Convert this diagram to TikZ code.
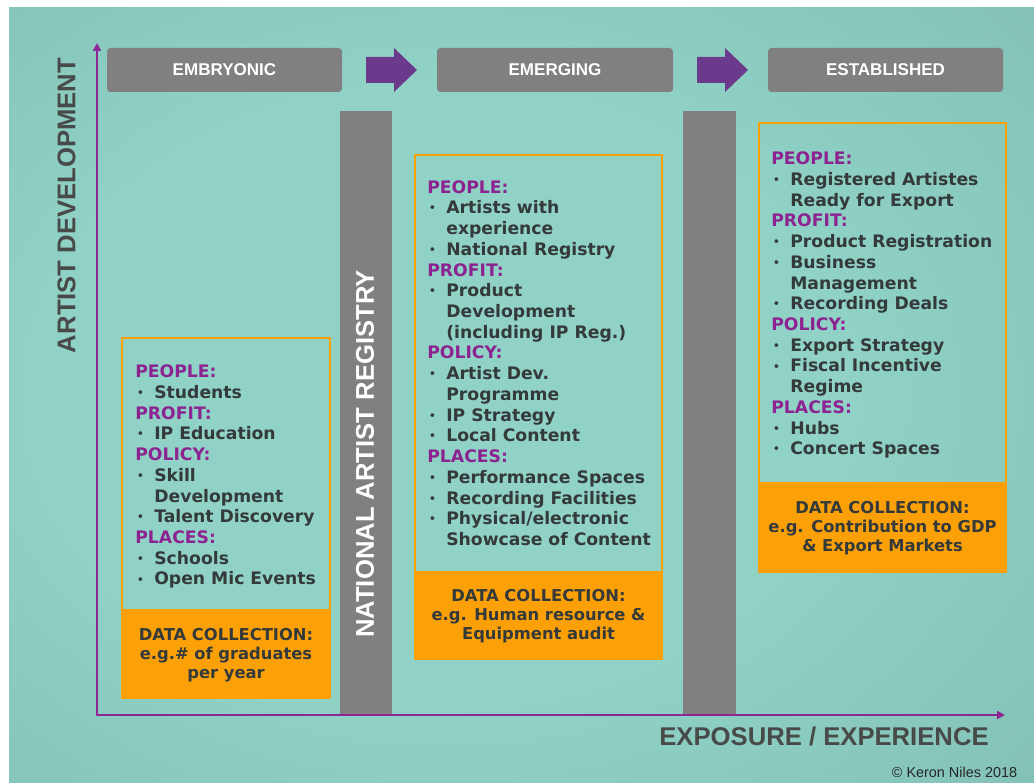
\documentclass[tikz,border=0pt]{standalone}
\usepackage{fontspec}
\newfontfamily\verdfont{DejaVu Sans}
\newfontfamily\arialfont{Liberation Sans}
\usetikzlibrary{arrows.meta}

\definecolor{tealin}{RGB}{144,210,198}
\definecolor{tealmid}{RGB}{128,189,179}
\definecolor{tealout}{RGB}{106,160,153}
\definecolor{stagegray}{RGB}{128,128,128}
\definecolor{stepviolet}{RGB}{108,58,140}
\definecolor{axisviolet}{RGB}{142,38,150}
\definecolor{grppurple}{RGB}{140,35,145}
\definecolor{boxorange}{RGB}{252,160,8}
\definecolor{bodytext}{RGB}{52,58,58}
\definecolor{labeltext}{RGB}{72,74,74}

% soft glow behind everything
\pgfdeclareradialshading{tealglow}{\pgfpoint{-6bp}{0bp}}{%
  color(0bp)=(tealin); color(20bp)=(tealin); color(42bp)=(tealmid); color(60bp)=(tealout)}

% bullet lists inside the boxes
\newlength\bulletw \setlength\bulletw{10.8pt}
\newcommand\grp[1]{{\color{grppurple}#1}}
\newcommand\itm[1]{\makebox[\bulletw][l]{\hspace{1pt}\raisebox{1.1pt}{\fontsize{6}{6}\selectfont•}}#1}
\newcommand\more[1]{\hspace*{\bulletw}#1}

\tikzset{
  stage/.style={fill=stagegray, rounded corners=2pt},
  stagetext/.style={text=white, font=\arialfont\bfseries\fontsize{9.7}{11}\selectfont},
  stepper/.style={fill=stepviolet},
  registrybar/.style={fill=stagegray},
  infoframe/.style={draw=boxorange, line width=1.2pt},
  datafill/.style={fill=boxorange},
  listtext/.style={anchor=north west, inner sep=0pt, align=left, text=bodytext,
    font=\verdfont\bfseries\fontsize{9.8}{11.8}\selectfont},
  datatext/.style={inner sep=0pt, align=center, text=bodytext,
    font=\verdfont\bfseries\fontsize{9.3}{10.8}\selectfont},
  bigcaps/.style={font=\arialfont\bfseries\fontsize{14.6}{16}\selectfont},
  axis/.style={draw=axisviolet, line width=1.1pt,
    {Triangle[length=4.5pt,width=4.5pt]}-{Triangle[length=4.5pt,width=4.5pt]}},
}

\begin{document}
\begin{tikzpicture}[x=0.02cm, y=-0.02cm]
  \useasboundingbox (0,0) rectangle (1034,783);
  \fill[white] (0,0) rectangle (1034,783);
  \shade[shading=tealglow] (9,8) rectangle (1034,783);

  % stages along the top
  \fill[stage] (107,48) rectangle (342,92);
  \fill[stage] (437,48) rectangle (673,92);
  \fill[stage] (768,48) rectangle (1003,92);
  \node[stagetext] (embryonic) at (224.5,70) {EMBRYONIC};
  \node[stagetext] (emerging) at (555,70) {EMERGING};
  \node[stagetext] (established) at (885.5,70) {ESTABLISHED};
  \fill[stepper] (366,57) -- (394,57) -- (394,48) -- (417,70) -- (394,92) -- (394,83) -- (366,83) -- cycle;
  \fill[stepper] (697,57) -- (725,57) -- (725,48) -- (748,70) -- (725,92) -- (725,83) -- (697,83) -- cycle;

  % gates between the stages
  \fill[registrybar] (340,111) rectangle (392,714);
  \fill[registrybar] (683,111) rectangle (736,714);
  \node[bigcaps, text=white, rotate=90] (registry) at (365,454) {NATIONAL ARTIST REGISTRY};

  % embryonic
  \draw[infoframe] (122,338) rectangle (330,610);
  \fill[datafill] (121.4,610) rectangle (330.6,699);
  \node[listtext] (embryoList) at (135,364.5) {%
    \grp{PEOPLE:}\\
    \itm{Students}\\
    \grp{PROFIT:}\\
    \itm{IP Education}\\
    \grp{POLICY:}\\
    \itm{Skill}\\
    \more{Development}\\
    \itm{Talent Discovery}\\
    \grp{PLACES:}\\
    \itm{Schools}\\
    \itm{Open Mic Events}};
  \node[datatext] (embryoData) at (226,655) {DATA COLLECTION:\\ e.g.\# of graduates\\ per year};

  % emerging
  \draw[infoframe] (415,155) rectangle (662,572);
  \fill[datafill] (414.4,572) rectangle (662.6,660);
  \node[listtext] (emergeList) at (427,180) {%
    \grp{PEOPLE:}\\
    \itm{Artists with}\\
    \more{experience}\\
    \itm{National Registry}\\
    \grp{PROFIT:}\\
    \itm{Product}\\
    \more{Development}\\
    \more{(including IP Reg.)}\\
    \grp{POLICY:}\\
    \itm{Artist Dev.}\\
    \more{Programme}\\
    \itm{IP Strategy}\\
    \itm{Local Content}\\
    \grp{PLACES:}\\
    \itm{Performance Spaces}\\
    \itm{Recording Facilities}\\
    \itm{Physical/electronic}\\
    \more{Showcase of Content}};
  \node[datatext] (emergeData) at (538.5,616) {DATA COLLECTION:\\ e.g. Human resource \&\\ Equipment audit};

  % established
  \draw[infoframe] (759,123) rectangle (1006,483);
  \fill[datafill] (758.4,483) rectangle (1006.6,573);
  \node[listtext] (establishList) at (771,151.5) {%
    \grp{PEOPLE:}\\
    \itm{Registered Artistes}\\
    \more{Ready for Export}\\
    \grp{PROFIT:}\\
    \itm{Product Registration}\\
    \itm{Business}\\
    \more{Management}\\
    \itm{Recording Deals}\\
    \grp{POLICY:}\\
    \itm{Export Strategy}\\
    \itm{Fiscal Incentive}\\
    \more{Regime}\\
    \grp{PLACES:}\\
    \itm{Hubs}\\
    \itm{Concert Spaces}};
  \node[datatext] (establishData) at (882.5,528) {DATA COLLECTION:\\ e.g. Contribution to GDP\\ \& Export Markets};

  % axes
  \coordinate (origin) at (97,715);
  \coordinate (ytip) at (97,43);
  \coordinate (xtip) at (1005,715);
  \draw[axis] (ytip) -- (origin) -- (xtip);
  \node[bigcaps, text=labeltext, rotate=90] (ylabel) at (66.5,205.5) {ARTIST DEVELOPMENT};
  \node[bigcaps, text=labeltext] (xlabel) at (824,736) {EXPOSURE / EXPERIENCE};
  \node[font=\arialfont\fontsize{8.2}{10}\selectfont, text=black!85] (credit) at (954.5,772) {© Keron Niles 2018};
\end{tikzpicture}
\end{document}
